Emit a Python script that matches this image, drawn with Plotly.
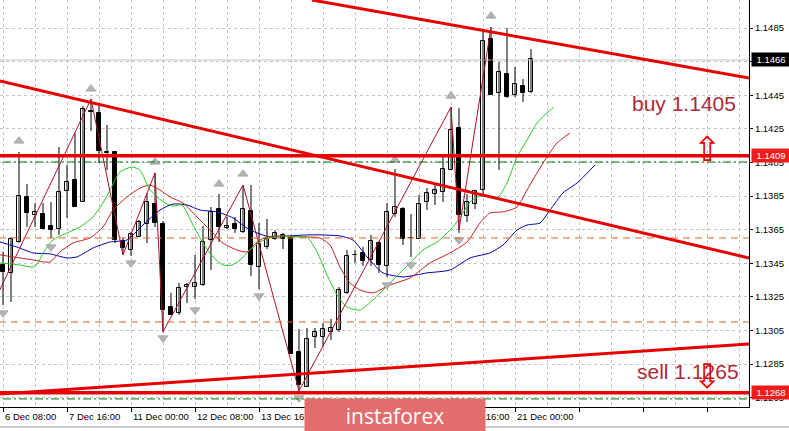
import plotly.graph_objects as go

# ---------------- data (EURUSD H4) ----------------
opens = [1.13440, 1.13393, 1.13577, 1.13845, 1.13738, 1.13744, 1.13672, 1.13654, 1.13881, 1.13946,
         1.13815, 1.14357, 1.14345, 1.14113, 1.14113, 1.13583, 1.13529, 1.13607, 1.13684, 1.13803,
         1.13684, 1.13190, 1.13155, 1.13309, 1.13309, 1.13321, 1.13589, 1.13773, 1.13660, 1.13684,
         1.13637, 1.13762, 1.13428, 1.13547, 1.13595, 1.13619, 1.13607, 1.12923, 1.12714, 1.13012,
         1.13012, 1.13042, 1.13053, 1.13274, 1.13500, 1.13512, 1.13470, 1.13571, 1.13434, 1.13744,
         1.13773, 1.13601, 1.13595, 1.13815, 1.13863, 1.13875, 1.14005, 1.14255, 1.13732, 1.13803,
         1.13886, 1.14785, 1.14464, 1.14577, 1.14452, 1.14505, 1.14470]
highs = [1.13518, 1.13607, 1.14113, 1.13922, 1.13809, 1.13809, 1.13815, 1.14142, 1.14035, 1.14226,
         1.14386, 1.14428, 1.14404, 1.14273, 1.14117, 1.13601, 1.13637, 1.13708, 1.13869, 1.13988,
         1.13702, 1.13274, 1.13333, 1.13333, 1.13500, 1.13672, 1.13785, 1.13863, 1.13726, 1.13726,
         1.13916, 1.13916, 1.13690, 1.13714, 1.13648, 1.13631, 1.13619, 1.13059, 1.13065, 1.13065,
         1.13095, 1.13119, 1.13309, 1.13529, 1.13529, 1.13547, 1.13619, 1.13583, 1.13809, 1.14011,
         1.13785, 1.13744, 1.13857, 1.13898, 1.13916, 1.14095, 1.14380, 1.14374, 1.13863, 1.13886,
         1.14827, 1.14856, 1.14648, 1.14850, 1.14618, 1.14547, 1.14725]
lows = [1.13202, 1.13220, 1.13571, 1.13666, 1.13666, 1.13654, 1.13601, 1.13619, 1.13720, 1.13785,
        1.13815, 1.14238, 1.14047, 1.14005, 1.13571, 1.13500, 1.13494, 1.13607, 1.13571, 1.13666,
        1.13042, 1.13143, 1.13143, 1.13214, 1.13238, 1.13315, 1.13410, 1.13577, 1.13654, 1.13631,
        1.13631, 1.13375, 1.13297, 1.13535, 1.13590, 1.13535, 1.12911, 1.12691, 1.12714, 1.12946,
        1.12952, 1.12994, 1.13042, 1.13268, 1.13452, 1.13434, 1.13434, 1.13393, 1.13369, 1.13726,
        1.13559, 1.13488, 1.13595, 1.13767, 1.13797, 1.13815, 1.14005, 1.13631, 1.13696, 1.13773,
        1.13845, 1.14452, 1.14005, 1.14434, 1.14440, 1.14410, 1.14464]
closes = [1.13399, 1.13595, 1.13851, 1.13750, 1.13756, 1.13654, 1.13648, 1.13875, 1.13934, 1.13785,
          1.14368, 1.14350, 1.14119, 1.14107, 1.13589, 1.13541, 1.13625, 1.13696, 1.13815, 1.13690,
          1.13172, 1.13143, 1.13303, 1.13321, 1.13333, 1.13577, 1.13756, 1.13666, 1.13672, 1.13654,
          1.13773, 1.13440, 1.13565, 1.13595, 1.13631, 1.13595, 1.12911, 1.12726, 1.13000, 1.13042,
          1.13059, 1.13065, 1.13291, 1.13494, 1.13497, 1.13464, 1.13583, 1.13440, 1.13756, 1.13785,
          1.13595, 1.13598, 1.13803, 1.13869, 1.13886, 1.14011, 1.14243, 1.13738, 1.13815, 1.13881,
          1.14773, 1.14452, 1.14589, 1.14440, 1.14517, 1.14464, 1.14666]
bar_index = list(range(len(opens)))

tick_index = [0, 8, 16, 24, 32, 40, 48, 56, 64]
tick_labels = ["6 Dec 08:00", "7 Dec 16:00", "11 Dec 00:00", "12 Dec 08:00", "13 Dec 16:00",
               "17 Dec 00:00", "18 Dec 08:00", "19 Dec 16:00", "21 Dec 00:00"]

# Alligator lines (already shifted forward)
lips_x = [-0.375, 2.125, 3.75, 4.375, 5.0, 6.25, 8.0, 9.625, 11.25, 12.5, 13.375, 14.625, 16.125, 17.125,
          18.375, 19.25, 20.25, 21.25, 22.375, 23.75, 25.0, 26.25, 27.5, 28.625, 29.625, 30.875, 32.125,
          33.375, 35.0, 36.25, 38.0, 39.25, 40.5, 41.75, 43.0, 44.625, 46.25, 48.375, 50.875, 52.5, 54.25,
          55.875, 57.125, 58.375, 60.0, 61.875, 63.0, 64.25, 65.5, 66.75, 68.0, 68.875]
lips_y = [1.13452, 1.13440, 1.13428, 1.13452, 1.13512, 1.13589, 1.13631, 1.13666, 1.13726, 1.13809,
          1.13886, 1.13994, 1.14023, 1.14005, 1.13886, 1.13845, 1.13809, 1.13791, 1.13797, 1.13678,
          1.13571, 1.13488, 1.13440, 1.13440, 1.13470, 1.13529, 1.13577, 1.13601, 1.13613, 1.13607,
          1.13607, 1.13518, 1.13381, 1.13262, 1.13190, 1.13172, 1.13232, 1.13333, 1.13452, 1.13529,
          1.13577, 1.13648, 1.13720, 1.13815, 1.13857, 1.13845, 1.13928, 1.14083, 1.14184, 1.14285,
          1.14345, 1.14380]
teeth_x = [-0.375, 2.125, 3.75, 5.875, 7.125, 8.75, 10.875, 12.5, 13.75, 15.5, 17.125, 18.375, 19.625,
           20.875, 22.5, 24.25, 25.875, 27.5, 29.25, 30.5, 31.75, 33.0, 35.0, 37.125, 39.625, 40.875,
           42.125, 43.375, 44.625, 46.25, 48.375, 50.875, 53.375, 55.875, 58.0, 59.625, 60.875, 62.5,
           64.25, 65.5, 66.75, 68.0, 69.25, 70.875]
teeth_y = [1.13500, 1.13482, 1.13470, 1.13458, 1.13518, 1.13571, 1.13601, 1.13666, 1.13767, 1.13845,
           1.13898, 1.13916, 1.13886, 1.13845, 1.13809, 1.13726, 1.13648, 1.13571, 1.13529, 1.13518,
           1.13577, 1.13607, 1.13613, 1.13607, 1.13601, 1.13559, 1.13428, 1.13333, 1.13291, 1.13274,
           1.13321, 1.13363, 1.13452, 1.13512, 1.13577, 1.13690, 1.13750, 1.13756, 1.13785, 1.13886,
           1.13988, 1.14083, 1.14166, 1.14226]
jaw_x = [-0.375, 1.75, 3.75, 5.875, 8.0, 9.25, 11.25, 13.375, 15.5, 17.5, 19.625, 21.25, 23.0, 24.625,
         26.75, 28.75, 30.5, 31.75, 33.375, 35.875, 38.0, 39.625, 42.125, 43.75, 45.5, 47.5, 50.0, 53.0,
         55.875, 58.375, 60.875, 62.5, 64.25, 65.5, 67.125, 68.375, 70.0, 71.75, 74.0]
jaw_y = [1.13577, 1.13547, 1.13512, 1.13506, 1.13482, 1.13488, 1.13541, 1.13577, 1.13589, 1.13678,
         1.13767, 1.13803, 1.13797, 1.13767, 1.13756, 1.13720, 1.13660, 1.13631, 1.13607, 1.13613,
         1.13619, 1.13619, 1.13613, 1.13589, 1.13488, 1.13393, 1.13369, 1.13393, 1.13410, 1.13482,
         1.13512, 1.13559, 1.13648, 1.13678, 1.13690, 1.13767, 1.13869, 1.13928, 1.14035]

# ZigZag vertices
zigzag_x = [-1, 11, 15, 19, 20, 30, 37, 56, 57, 61]
zigzag_y = [1.13232, 1.14428, 1.13500, 1.13988, 1.13042, 1.13916, 1.12691, 1.14380, 1.13648, 1.14856]

# Fractals
frac_up_x = [2, 11, 19, 27, 30, 49, 56, 61]
frac_up_y = [1.14178, 1.14488, 1.14053, 1.13922, 1.13982, 1.14065, 1.14446, 1.14922]
frac_dn_x = [0, 6, 16, 20, 24, 32, 37, 48, 51, 57]
frac_dn_y = [1.13155, 1.13547, 1.13452, 1.13006, 1.13172, 1.13256, 1.12649, 1.13321, 1.13440, 1.13589]

# Drawn objects (trend lines / levels)
top_trend_x, top_trend_y = [38.625, 93.25], [1.15017, 1.14553]
mid_trend_x, mid_trend_y = [-0.375, 93.25], [1.14535, 1.13482]
low_trend_x, low_trend_y = [-0.375, 93.25], [1.12673, 1.12970]
red_levels = [1.1409, 1.1268]
green_levels = [1.14053, 1.12643]
orange_levels = [1.13601, 1.13101]
bid_price = 1.1466
y_ticks = [1.1265 + 0.002 * k for k in range(12)]

X_RANGE = [-0.375, 93.25]
Y_RANGE = [1.12595, 1.15017]
XL = [-2, 96]

fig = go.Figure()

# bid line
fig.add_trace(go.Scatter(x=XL, y=[bid_price, bid_price], mode="lines",
                         line=dict(color="#c4c4c4", width=1), hoverinfo="skip"))

# wicks
wx, wy = [], []
for i, h, l in zip(bar_index, highs, lows):
    wx += [i, i, None]
    wy += [l, h, None]
fig.add_trace(go.Scatter(x=wx, y=wy, mode="lines", line=dict(color="black", width=1), hoverinfo="skip"))

# bodies
base = [min(o, c) for o, c in zip(opens, closes)]
height = [max(abs(c - o), 0.00002) for o, c in zip(opens, closes)]
colors = ["white" if c >= o else "black" for o, c in zip(opens, closes)]
fig.add_trace(go.Bar(x=bar_index, y=height, base=base, width=0.62,
                     marker=dict(color=colors, line=dict(color="black", width=1))))

# alligator
fig.add_trace(go.Scatter(x=jaw_x, y=jaw_y, mode="lines", line=dict(color="#0000a8", width=1, shape="spline", smoothing=0.6)))
fig.add_trace(go.Scatter(x=teeth_x, y=teeth_y, mode="lines", line=dict(color="#c81e1e", width=1, shape="spline", smoothing=0.6)))
fig.add_trace(go.Scatter(x=lips_x, y=lips_y, mode="lines", line=dict(color="#22cc22", width=1, shape="spline", smoothing=0.6)))

# zigzag
fig.add_trace(go.Scatter(x=zigzag_x, y=zigzag_y, mode="lines", line=dict(color="#b0102a", width=1)))

# fractals
fig.add_trace(go.Scatter(x=frac_up_x, y=frac_up_y, mode="markers",
                         marker=dict(symbol="triangle-up", size=9, color="#b4b4b4",
                                     line=dict(color="#8c8c8c", width=0.5))))
fig.add_trace(go.Scatter(x=frac_dn_x, y=frac_dn_y, mode="markers",
                         marker=dict(symbol="triangle-down", size=9, color="#b4b4b4",
                                     line=dict(color="#8c8c8c", width=0.5))))

# dashed levels
for lv in green_levels:
    fig.add_trace(go.Scatter(x=XL, y=[lv, lv], mode="lines",
                             line=dict(color="#007800", width=1, dash="8px,3px,2px,3px")))
for lv in orange_levels:
    fig.add_trace(go.Scatter(x=XL, y=[lv, lv], mode="lines",
                             line=dict(color="#e8602c", width=1, dash="7px,5px")))

# red objects
for lv in red_levels:
    fig.add_trace(go.Scatter(x=XL, y=[lv, lv], mode="lines", line=dict(color="#e60000", width=3.5)))
for xs, ys in [(top_trend_x, top_trend_y), (mid_trend_x, mid_trend_y), (low_trend_x, low_trend_y)]:
    fig.add_trace(go.Scatter(x=xs, y=ys, mode="lines", line=dict(color="#e60000", width=3)))

annotations = []
for ti, tl in zip(tick_index, tick_labels):
    annotations.append(dict(x=ti, xref="x", y=0, yref="paper", text=tl, showarrow=False,
                            xanchor="left", yanchor="top", xshift=0, yshift=-2,
                            font=dict(family="Liberation Sans", size=9.5, color="black")))

# price labels on axis
for price, bg in [(bid_price, "black"), (red_levels[0], "#ee1c1c"), (red_levels[1], "#ee1c1c")]:
    annotations.append(dict(x=1, xref="paper", y=price, yref="y", text=f"{price:.4f}", showarrow=False,
                            xanchor="left", yanchor="middle", xshift=2, bgcolor=bg, borderpad=1,
                            width=36, align="center",
                            font=dict(family="Liberation Sans", size=9.5, color="white")))

# trade texts and arrows
annotations.append(dict(x=85.1, xref="x", y=1.14404, yref="y", text="buy 1.1405", showarrow=False,
                        font=dict(family="Liberation Sans", size=21, color="#ad2a36")))
annotations.append(dict(x=85.6, xref="x", y=1.12804, yref="y", text="sell 1.1265", showarrow=False,
                        font=dict(family="Liberation Sans", size=21, color="#ad2a36")))
annotations.append(dict(x=88, xref="x", y=1.14130, yref="y", text="\u21e7", showarrow=False,
                        font=dict(family="DejaVu Sans", size=34, color="#e60000")))
annotations.append(dict(x=88, xref="x", y=1.12780, yref="y", text="\u21e9", showarrow=False,
                        font=dict(family="DejaVu Sans", size=34, color="#e60000")))

# logo
annotations.append(dict(x=395 / 749, xref="paper", y=(407 - 415.5) / 407, yref="paper", text="instaforex",
                        showarrow=False, width=178, height=31, bgcolor="#e36c6c",
                        xanchor="center", yanchor="middle",
                        font=dict(family="Open Sans", size=21, color="white")))

fig.update_layout(
    width=789, height=431,
    margin=dict(l=0, r=40, t=0, b=24),
    paper_bgcolor="white", plot_bgcolor="white",
    showlegend=False, bargap=0,
    annotations=annotations,
    shapes=[dict(type="line", xref="paper", yref="paper", x0=0, x1=789 / 749,
                 y0=(407 - 427) / 407, y1=(407 - 427) / 407, line=dict(color="#9a9a9a", width=1))],
    xaxis=dict(range=X_RANGE, showline=True, linecolor="black", linewidth=1, mirror=False,
               ticks="outside", ticklen=4, tickcolor="black", tick0=0, dtick=8,
               showticklabels=False, showgrid=True, gridcolor="#c4c4c4", griddash="3px,3px",
               minor=dict(tick0=0, dtick=4, showgrid=True, gridcolor="#c4c4c4", griddash="3px,3px"),
               zeroline=False, fixedrange=True),
    yaxis=dict(range=Y_RANGE, side="right", showline=True, linecolor="black", linewidth=1,
               ticks="outside", ticklen=3, tickcolor="black", tickvals=y_ticks,
               ticktext=[f"{v:.4f}" for v in y_ticks],
               tickfont=dict(family="Liberation Sans", size=9.5, color="black"),
               showgrid=True, gridcolor="#c4c4c4", griddash="3px,3px", zeroline=False, fixedrange=True),
)

fig.write_html("out.html", config={"displayModeBar": False},
               post_script="document.body.style.margin='0';document.body.style.overflow='hidden';")
